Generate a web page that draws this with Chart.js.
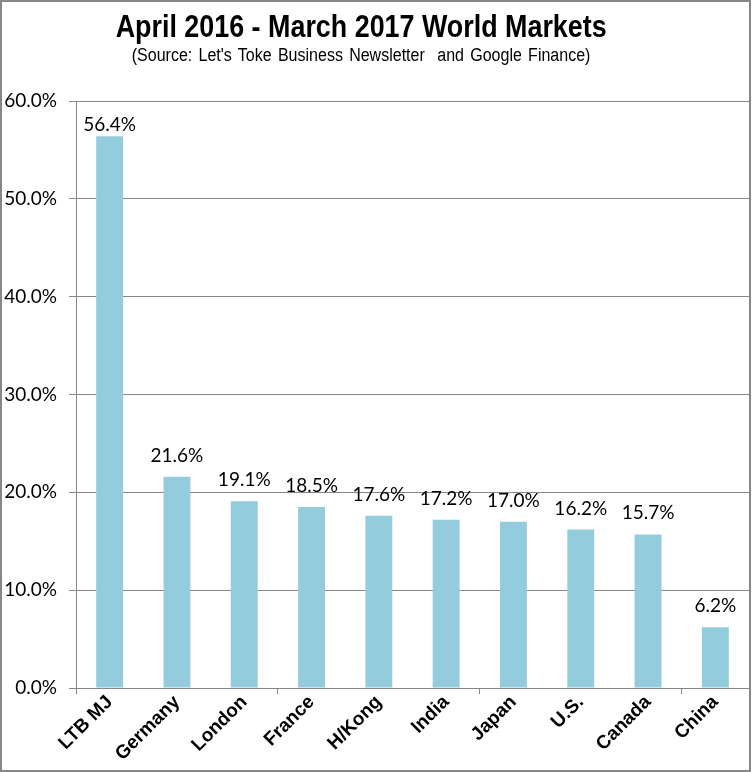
<!DOCTYPE html>
<html>
<head>
<meta charset="utf-8">
<script src="https://cdn.jsdelivr.net/npm/chart.js@4/dist/chart.umd.min.js"></script>
<style>
  html, body { margin: 0; padding: 0; background: #fff; }
  #frame {
    position: absolute; left: 0; top: 0; width: 751px; height: 772px;
    box-sizing: border-box; border: 2px solid #868686; background: #fff;
  }
  #title {
    position: absolute; left: 0; width: 718px; top: 7px; text-align: center;
    font-family: "Liberation Sans", Arial, sans-serif;
    font-weight: bold; font-size: 32px; line-height: 34px; color: #000;
    transform: scaleX(0.84); transform-origin: 360px 0;
  }
  #subtitle {
    position: absolute; left: 0; width: 718px; top: 42px; text-align: center;
    font-family: "Liberation Sans", Arial, sans-serif;
    font-size: 18px; line-height: 22px; color: #000;
    white-space: pre; word-spacing: 2px;
    transform: scaleX(0.89); transform-origin: 360px 0;
  }
  #wrap { position: absolute; left: 0; top: 0; width: 747px; height: 768px; }
</style>
</head>
<body>
<div id="frame">
  <div id="wrap"><canvas id="c"></canvas></div>
  <div id="title">April 2016 - March 2017 World Markets</div>
  <div id="subtitle">(Source: Let's Toke Business Newsletter  and Google Finance)</div>
</div>
<script>
const categories = ['LTB MJ', 'Germany', 'London', 'France', 'H/Kong', 'India', 'Japan', 'U.S.', 'Canada', 'China'];
const returnsPct = [56.4, 21.6, 19.1, 18.5, 17.6, 17.2, 17.0, 16.2, 15.7, 6.2];
const yTickValues = [0, 10, 20, 30, 40, 50, 60];

const barColor = '#93CDDD';
const axisColor = '#868686';

const valueLabels = {
  id: 'valueLabels',
  afterDatasetsDraw(chart) {
    const ctx = chart.ctx;
    const meta = chart.getDatasetMeta(0);
    const area = chart.chartArea;
    ctx.save();
    ctx.font = '19px Lato, "Open Sans", sans-serif';
    ctx.fillStyle = '#000';
    ctx.textAlign = 'center';
    ctx.textBaseline = 'alphabetic';
    meta.data.forEach((bar, i) => {
      const v = chart.data.datasets[0].data[i];
      const y = Math.max(bar.y - 15, area.top + 30);
      ctx.fillText(v.toFixed(1) + '%', bar.x, y);
    });
    ctx.restore();
  }
};

new Chart(document.getElementById('c'), {
  type: 'bar',
  data: {
    labels: categories,
    datasets: [{
      data: returnsPct,
      backgroundColor: barColor,
      borderWidth: 0,
      barPercentage: 0.4,
      categoryPercentage: 1.0
    }]
  },
  options: {
    responsive: true,
    maintainAspectRatio: false,
    animation: false,
    events: [],
    layout: { padding: { top: 99, right: 0, bottom: 0, left: 0 } },
    plugins: {
      legend: { display: false },
      tooltip: { enabled: false },
      title: { display: false }
    },
    scales: {
      x: {
        offset: true,
        grid: {
          offset: true,
          drawOnChartArea: false,
          drawTicks: true,
          tickLength: 6,
          color: (c) => (c.index % 3 === 0 ? axisColor : 'rgba(0,0,0,0)'),
          lineWidth: 1
        },
        border: { display: true, color: axisColor, width: 1 },
        ticks: {
          autoSkip: false,
          maxRotation: 45,
          minRotation: 45,
          padding: -3,
          color: '#000',
          font: { family: '"Liberation Sans", Arial, sans-serif', size: 19, weight: 'bold' }
        },
        afterFit: (s) => { s.height = 82; }
      },
      y: {
        min: 0,
        max: 60,
        afterBuildTicks: (s) => { s.ticks = yTickValues.map(v => ({ value: v })); },
        grid: {
          color: axisColor,
          lineWidth: 1,
          drawTicks: true,
          tickLength: 7
        },
        border: { display: true, color: axisColor, width: 1 },
        ticks: {
          padding: 12,
          color: '#000',
          font: { family: 'Lato, "Open Sans", sans-serif', size: 19 },
          callback: (v) => Number(v).toFixed(1) + '%'
        },
        afterFit: (s) => { s.width = 74; }
      }
    }
  },
  plugins: [valueLabels]
});
</script>
</body>
</html>
